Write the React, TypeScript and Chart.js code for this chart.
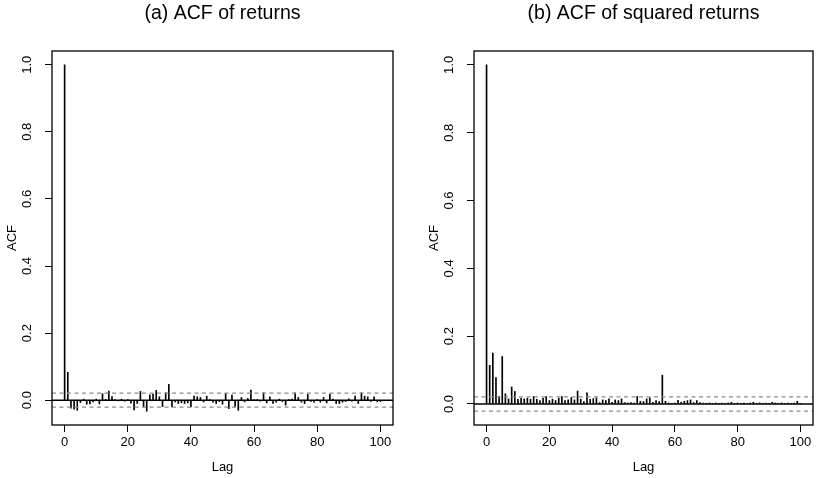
import React, { useEffect, useRef } from 'react';
import { Chart, registerables } from 'chart.js';

Chart.register(...registerables);

// ---------- data ----------
const lags: number[] = [
  0, 1, 2, 3, 4, 5, 6, 7, 8, 9, 10, 11, 12, 13, 14, 15, 16, 17, 18, 19, 20,
  21, 22, 23, 24, 25, 26, 27, 28, 29, 30, 31, 32, 33, 34, 35, 36, 37, 38, 39, 40,
  41, 42, 43, 44, 45, 46, 47, 48, 49, 50, 51, 52, 53, 54, 55, 56, 57, 58, 59, 60,
  61, 62, 63, 64, 65, 66, 67, 68, 69, 70, 71, 72, 73, 74, 75, 76, 77, 78, 79, 80,
  81, 82, 83, 84, 85, 86, 87, 88, 89, 90, 91, 92, 93, 94, 95, 96, 97, 98, 99, 100,
];

const acfReturns: number[] = [
  1.0, 0.083, -0.024, -0.027, -0.03, -0.007, 0.003, -0.012, -0.011, -0.005,
  0.003, -0.011, 0.019, 0.002, 0.027, 0.011, 0.002, -0.002, 0.003, -0.003,
  0.002, -0.009, -0.029, -0.01, 0.026, -0.02, -0.033, 0.016, 0.018, 0.029,
  0.01, -0.019, 0.022, 0.047, -0.02, -0.005, -0.01, -0.008, -0.01, -0.008,
  -0.02, 0.012, 0.01, 0.008, -0.005, 0.012, 0.002, -0.006, -0.01, -0.004,
  -0.012, 0.02, -0.025, 0.015, -0.02, -0.03, 0.008, -0.005, 0.005, 0.03,
  0.002, 0.002, -0.003, 0.022, -0.008, 0.01, -0.01, -0.006, 0.003, -0.004,
  -0.015, 0.002, 0.003, 0.022, 0.008, -0.006, -0.01, 0.018, -0.004, -0.006,
  0.002, -0.006, 0.008, -0.008, 0.018, 0.003, -0.01, -0.01, -0.006, -0.004,
  0.004, -0.003, 0.012, -0.01, 0.022, 0.012, 0.01, -0.004, 0.01, -0.005,
  -0.004,
];

const acfSquared: number[] = [
  1.0, 0.114, 0.15, 0.078, 0.022, 0.14, 0.03, 0.015, 0.05, 0.037,
  0.014, 0.017, 0.015, 0.017, 0.014, 0.022, 0.014, 0.01, 0.017, 0.022,
  0.01, 0.014, 0.01, 0.017, 0.022, 0.01, 0.012, 0.019, 0.012, 0.038,
  0.014, 0.007, 0.033, 0.014, 0.016, 0.018, 0.004, 0.012, 0.01, 0.015,
  0.005, 0.012, 0.01, 0.015, 0.004, 0.003, 0.004, 0.003, 0.022, 0.008,
  0.007, 0.015, 0.018, 0.005, 0.01, 0.007, 0.085, 0.008, 0.003, 0.002,
  0.003, 0.011, 0.005, 0.008, 0.01, 0.012, 0.004, 0.01, 0.004, 0.003,
  0.002, 0.003, 0.002, 0.003, 0.002, 0.003, 0.002, 0.003, 0.005, 0.002,
  0.003, 0.002, 0.003, 0.002, 0.003, 0.005, 0.002, 0.003, 0.002, 0.003,
  0.002, 0.005, 0.003, 0.002, 0.003, 0.002, 0.003, 0.002, 0.003, 0.008,
  0.002,
];

const xTicks: number[] = [0, 20, 40, 60, 80, 100];
const yTicks: number[] = [0, 0.2, 0.4, 0.6, 0.8, 1.0];
const ciReturns = 0.021;
const ciSquared = 0.021;
const titleReturns = '(a) ACF of returns';
const titleSquared = '(b) ACF of squared returns';

// ---------- styling ----------
const FONT = "'Liberation Sans', Arial, Helvetica, sans-serif";

function framePlugin(ci: number) {
  return {
    id: 'acfFrame',
    afterDatasetsDraw(chart: any) {
      const { ctx, chartArea: a, scales } = chart;
      const y = scales.y;
      ctx.save();
      // zero line
      ctx.strokeStyle = '#000';
      ctx.lineWidth = 1.5;
      const y0 = y.getPixelForValue(0);
      ctx.beginPath();
      ctx.moveTo(a.left, y0);
      ctx.lineTo(a.right, y0);
      ctx.stroke();
      // confidence bounds
      ctx.strokeStyle = '#8c8c8c';
      ctx.lineWidth = 1.2;
      ctx.setLineDash([4, 3.5]);
      for (const v of [ci, -ci]) {
        const py = y.getPixelForValue(v);
        ctx.beginPath();
        ctx.moveTo(a.left, py);
        ctx.lineTo(a.right, py);
        ctx.stroke();
      }
      ctx.setLineDash([]);
      // box
      ctx.strokeStyle = '#000';
      ctx.lineWidth = 1.3;
      ctx.strokeRect(a.left, a.top, a.right - a.left, a.bottom - a.top);
      ctx.restore();
    },
  };
}

type PanelProps = {
  title: string;
  values: number[];
  ci: number;
  yMin: number;
  left: number;
  width: number;
  padRight: number;
};

function Panel({ title, values, ci, yMin, left, width, padRight }: PanelProps) {
  const ref = useRef<HTMLCanvasElement | null>(null);
  useEffect(() => {
    if (!ref.current) return;
    const chart = new Chart(ref.current, {
      type: 'bar',
      data: {
        datasets: [
          {
            data: lags.map((l, i) => ({ x: l, y: values[i] })),
            backgroundColor: '#000',
            borderWidth: 0,
            barThickness: 1,
            grouped: false,
          } as any,
        ],
      },
      options: {
        responsive: false,
        animation: false,
        devicePixelRatio: 1,
        layout: { padding: { left: 0, top: 0, right: padRight, bottom: 0 } },
        plugins: {
          legend: { display: false },
          tooltip: { enabled: false },
          title: {
            display: true,
            text: title,
            fullSize: false,
            color: '#000',
            font: { family: FONT, size: 19.5, weight: 'normal' },
            padding: { top: 1.5, bottom: 26.1 },
          },
        },
        scales: {
          x: {
            type: 'linear',
            min: -4,
            max: 104,
            offset: false,
            afterBuildTicks: (s: any) => {
              s.ticks = xTicks.map((v) => ({ value: v }));
            },
            afterFit: (s: any) => {
              s.height = 53;
            },
            grid: {
              display: true,
              drawOnChartArea: false,
              drawTicks: true,
              tickLength: 7,
              color: '#000',
              lineWidth: 1,
              offset: false,
            },
            border: { display: false },
            ticks: {
              color: '#000',
              font: { family: FONT, size: 13 },
              padding: 2.2,
              autoSkip: false,
              minRotation: 0,
              maxRotation: 0,
              callback: (v: any) => String(v),
            },
            title: {
              display: true,
              text: 'Lag',
              color: '#000',
              font: { family: FONT, size: 13 },
              padding: { top: 0, bottom: 3.2 },
            },
          },
          y: {
            type: 'linear',
            min: yMin,
            max: 1.041,
            afterBuildTicks: (s: any) => {
              s.ticks = yTicks.map((v) => ({ value: v }));
            },
            afterFit: (s: any) => {
              s.width = 52;
            },
            grid: {
              display: true,
              drawOnChartArea: false,
              drawTicks: true,
              tickLength: 7,
              color: '#000',
              lineWidth: 1,
            },
            border: { display: false },
            ticks: {
              color: '#000',
              font: { family: FONT, size: 13 },
              padding: 8.5,
              autoSkip: false,
              minRotation: 90,
              maxRotation: 90,
              crossAlign: 'center',
              callback: (v: any) => Number(v).toFixed(1),
            },
            title: {
              display: true,
              text: 'ACF',
              color: '#000',
              font: { family: FONT, size: 13 },
              padding: { top: 4.2, bottom: 0 },
            },
          },
        },
      } as any,
      plugins: [framePlugin(ci)],
    });
    return () => chart.destroy();
  }, [title, values, ci, yMin, padRight]);

  return (
    <canvas
      ref={ref}
      width={width}
      height={478}
      style={{ position: 'absolute', left, top: 0, width, height: 478, display: 'block' }}
    />
  );
}

export default function App() {
  return (
    <div
      style={{
        position: 'absolute',
        left: 0,
        top: 0,
        width: 819,
        height: 478,
        background: '#fff',
        overflow: 'hidden',
      }}
    >
      <Panel title={titleReturns} values={acfReturns} ci={ciReturns} yMin={-0.074} left={0} width={410} padRight={17} />
      <Panel title={titleSquared} values={acfSquared} ci={ciSquared} yMin={-0.062} left={422} width={397} padRight={6} />
    </div>
  );
}
